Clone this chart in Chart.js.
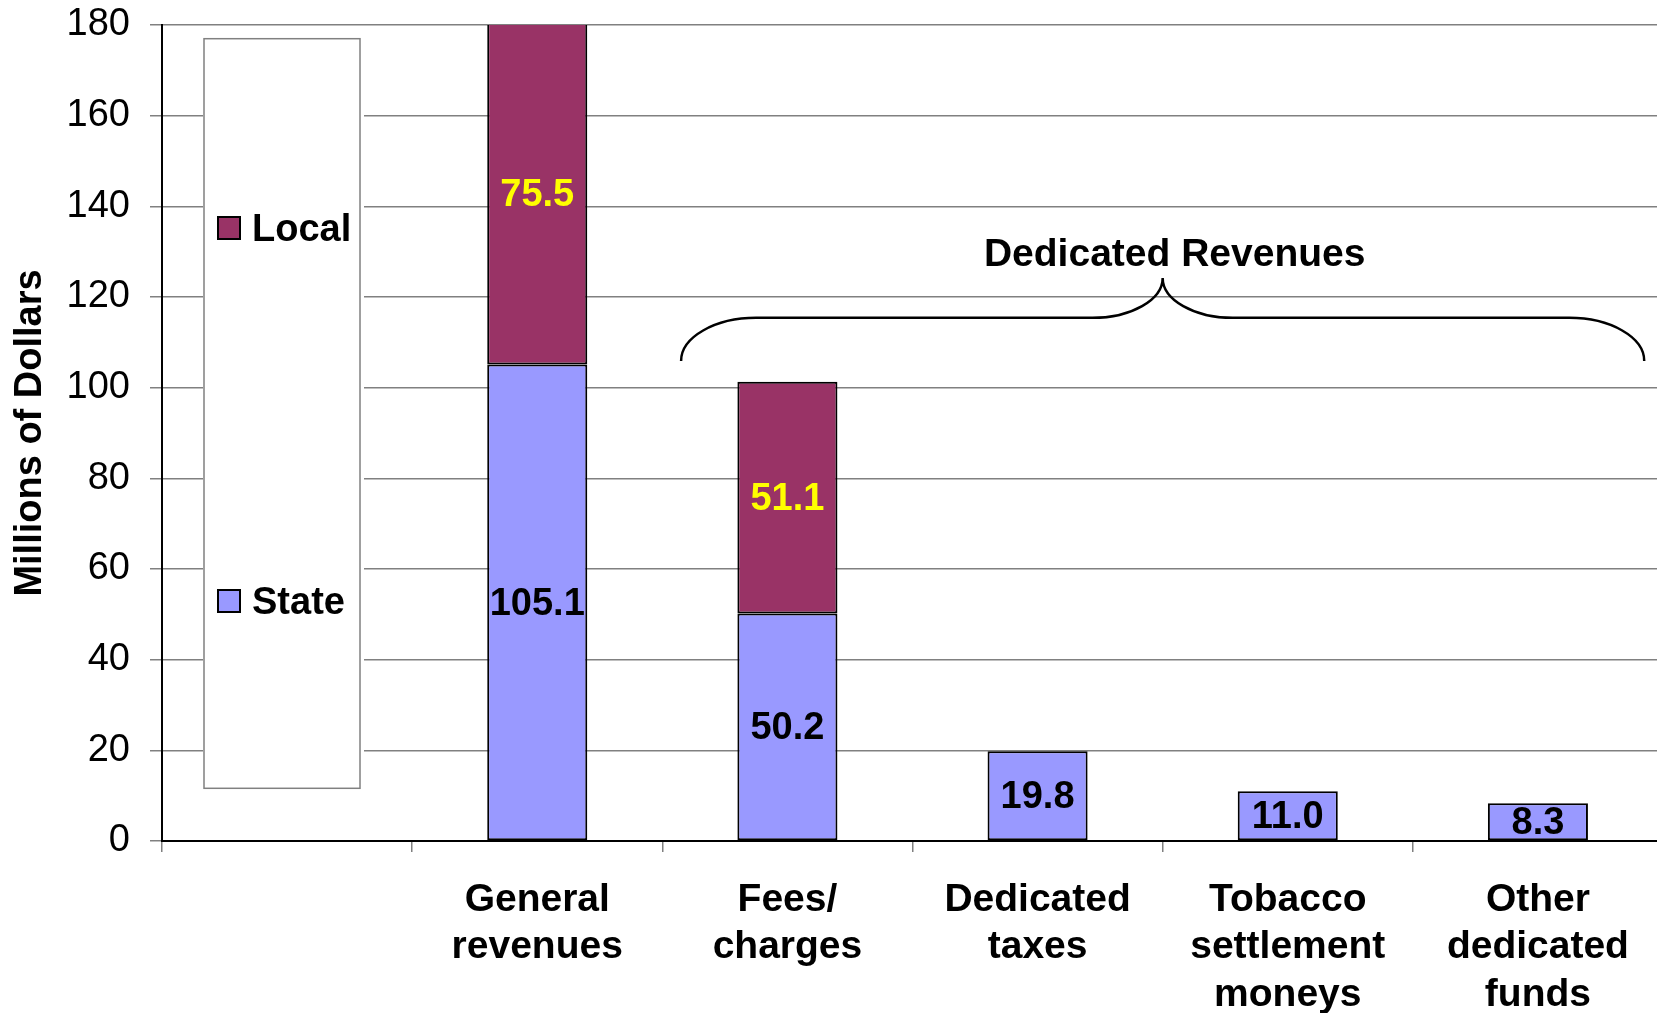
<!DOCTYPE html>
<html>
<head>
<meta charset="utf-8">
<script src="https://cdn.jsdelivr.net/npm/chart.js@4"></script>
<style>
  html, body { margin: 0; padding: 0; background: #fff; overflow: hidden; }
  #wrap { width: 1670px; height: 1013px; }
  canvas { display: block; }
</style>
</head>
<body>
<div id="wrap"><canvas id="revenues" width="1670" height="1013"></canvas></div>
<script>
// categories (first one is empty, the legend sits there)
var categories = ['', ['General', 'revenues'], ['Fees/', 'charges'], ['Dedicated', 'taxes'],
                  ['Tobacco', 'settlement', 'moneys'], ['Other', 'dedicated', 'funds']];
var stateValues = [null, 105.1, 50.2, 19.8, 11.0, 8.3];
var localValues = [null, 75.5, 51.1, null, null, null];
var yMin = 0, yMax = 180, yStep = 20;
var braceLabel = 'Dedicated Revenues';
var axisTitle = 'Millions of Dollars';

var FONT = '"Liberation Sans", Arial, sans-serif';
var STATE_COLOR = '#9999FF';
var LOCAL_COLOR = '#993366';

Chart.defaults.color = '#000';
Chart.defaults.font.family = FONT;

// legend box drawn by hand, in the empty first category
var legendBox = {
    id: 'legendBox',
    beforeDatasetsDraw: function(chart) {
        var ctx = chart.ctx;
        ctx.save();
        ctx.fillStyle = '#fff';
        ctx.fillRect(203, 38, 161, 751);
        ctx.strokeStyle = '#808080';
        ctx.lineWidth = 1.5;
        ctx.strokeRect(204, 38.7, 156, 749.6);

        var items = [['Local', LOCAL_COLOR, 217], ['State', STATE_COLOR, 590]];
        ctx.font = 'bold 38px ' + FONT;
        ctx.textBaseline = 'alphabetic';
        ctx.textAlign = 'left';
        items.forEach(function(it) {
            ctx.fillStyle = it[1];
            ctx.fillRect(218, it[2], 22, 22);
            ctx.strokeStyle = '#000';
            ctx.lineWidth = 2;
            ctx.strokeRect(218, it[2], 22, 22);
            ctx.fillStyle = '#000';
            ctx.fillText(it[0], 252, it[2] + 24);
        });
        ctx.restore();
    }
};

// value labels in the middle of each segment
var valueLabels = {
    id: 'valueLabels',
    afterDatasetsDraw: function(chart) {
        var ctx = chart.ctx;
        ctx.save();
        ctx.font = 'bold 38px ' + FONT;
        ctx.textAlign = 'center';
        ctx.textBaseline = 'middle';
        chart.data.datasets.forEach(function(ds, i) {
            var meta = chart.getDatasetMeta(i);
            meta.data.forEach(function(bar, j) {
                var v = ds.data[j];
                if (v === null) return;
                var p = bar.getProps(['x', 'y', 'base'], true);
                ctx.fillStyle = ds.labelColor;
                ctx.fillText(v.toFixed(1), p.x, (p.y + p.base) / 2 + 2);
            });
        });
        ctx.restore();
    }
};

// curly brace over the dedicated revenue categories
var brace = {
    id: 'brace',
    afterDatasetsDraw: function(chart) {
        var x = chart.scales.x, y = chart.scales.y, ctx = chart.ctx;
        var xl = x.getPixelForValue(1.575), xr = x.getPixelForValue(5.425), xm = x.getPixelForValue(3.5);
        var yEnd = y.getPixelForValue(105.9), yBar = y.getPixelForValue(115.4), yTip = y.getPixelForValue(124.2);
        var endW = x.getPixelForValue(0.3) - x.getPixelForValue(0);
        var midW = x.getPixelForValue(0.28) - x.getPixelForValue(0);
        var k = 0.55;
        ctx.save();
        ctx.strokeStyle = '#000';
        ctx.lineWidth = 2.5;
        ctx.beginPath();
        ctx.moveTo(xl, yEnd);
        ctx.bezierCurveTo(xl, yEnd - (yEnd - yBar) * k, xl + endW - endW * k, yBar, xl + endW, yBar);
        ctx.lineTo(xm - midW, yBar);
        ctx.bezierCurveTo(xm - midW + midW * k, yBar, xm, yTip + (yBar - yTip) * k, xm, yTip);
        ctx.bezierCurveTo(xm, yTip + (yBar - yTip) * k, xm + midW - midW * k, yBar, xm + midW, yBar);
        ctx.lineTo(xr - endW, yBar);
        ctx.bezierCurveTo(xr - endW + endW * k, yBar, xr, yEnd - (yEnd - yBar) * k, xr, yEnd);
        ctx.stroke();

        ctx.font = 'bold 39px ' + FONT;
        ctx.fillStyle = '#000';
        ctx.textAlign = 'center';
        ctx.textBaseline = 'alphabetic';
        ctx.fillText(braceLabel, xm + 12, y.getPixelForValue(126.8));
        ctx.restore();
    }
};

var ctx = document.getElementById('revenues').getContext('2d');
var revenueChart = new Chart(ctx, {
    type: 'bar',
    data: {
        labels: categories,
        datasets: [
            {
                label: 'State',
                data: stateValues,
                backgroundColor: STATE_COLOR,
                borderColor: '#000',
                borderWidth: 2,
                borderSkipped: false,
                labelColor: '#000',
                barPercentage: 0.4,
                categoryPercentage: 1.0
            },
            {
                label: 'Local',
                data: localValues,
                backgroundColor: LOCAL_COLOR,
                borderColor: '#000',
                borderWidth: 2,
                borderSkipped: false,
                labelColor: '#FFFF00',
                barPercentage: 0.4,
                categoryPercentage: 1.0
            }
        ]
    },
    options: {
        responsive: false,
        animation: false,
        devicePixelRatio: 1,
        layout: { padding: { top: 25, right: 7, left: 0, bottom: 0 } },
        plugins: {
            legend: { display: false },
            tooltip: { enabled: false }
        },
        scales: {
            x: {
                stacked: true,
                offset: true,
                grid: { drawOnChartArea: false, drawTicks: true, tickLength: 11, color: '#808080', lineWidth: 1.5, offset: true },
                border: { color: '#000', width: 2 },
                ticks: {
                    font: { size: 39, weight: 'bold', lineHeight: 1.22 },
                    padding: 24,
                    maxRotation: 0,
                    autoSkip: false
                },
                afterFit: function(scale) { scale.height = 172; }
            },
            y: {
                stacked: true,
                min: yMin,
                max: yMax,
                ticks: {
                    stepSize: yStep,
                    font: { size: 38 },
                    padding: 20
                },
                grid: { color: '#808080', lineWidth: 1.5, tickLength: 12 },
                border: { color: '#000', width: 2 },
                title: {
                    display: true,
                    text: axisTitle,
                    font: { size: 38, weight: 'bold' },
                    padding: { top: 8, bottom: 4 }
                },
                afterFit: function(scale) {
                    scale.width = 162;
                    scale.paddingTop = 0;
                    scale.paddingBottom = 0;
                }
            }
        }
    },
    plugins: [legendBox, valueLabels, brace]
});
</script>
</body>
</html>
